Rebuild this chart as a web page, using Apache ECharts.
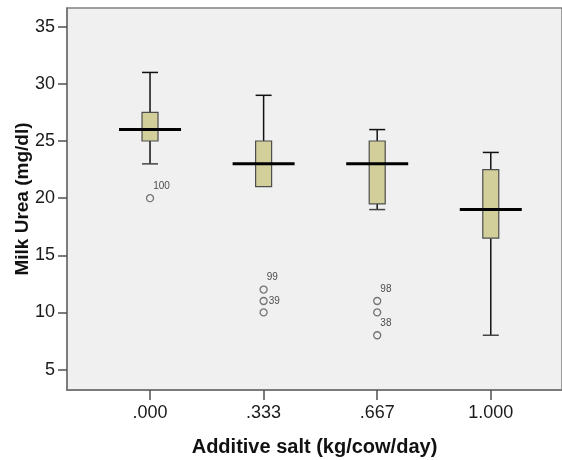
<!DOCTYPE html>
<html>
<head>
<meta charset="utf-8">
<title>Milk Urea by Additive salt</title>
<script src="https://cdn.jsdelivr.net/npm/echarts@6/dist/echarts.min.js"></script>
<style>
  html, body { margin: 0; padding: 0; background: #ffffff; }
  #chart { width: 562px; height: 460px; }
</style>
</head>
<body>
<div id="chart"></div>
<script>
// Groups of additive salt level (kg/cow/day)
const categories = ['.000', '.333', '.667', '1.000'];

// Five-number summaries per group: [whisker low, Q1, median, Q3, whisker high]
const whiskerLow  = [23, 21, 19, 8];
const q1          = [25, 21, 19.5, 16.5];
const medians     = [26, 23, 23, 19];
const q3          = [27.5, 25, 25, 22.5];
const whiskerHigh = [31, 29, 26, 24];

// Outliers: group index, value, case id ('' when unlabelled)
const outlierGroup = [0, 1, 1, 1, 2, 2, 2];
const outlierValue = [20, 12, 11, 10, 11, 10, 8];
const outlierCase  = ['100', '99', '39', '', '98', '', '38'];

// Y axis tick values
const yTicks = [5, 10, 15, 20, 25, 30, 35];

const boxData = categories.map((c, i) => [i, whiskerLow[i], q1[i], medians[i], q3[i], whiskerHigh[i]]);
const outlierData = outlierValue.map((v, i) => [outlierGroup[i], v, outlierCase[i]]);

// Case labels sit above-right of the point, unless the point is flanked above
const sideLabel = { '39': 'right' };

const BOX_W = 16, MED_W = 62, CAP_W = 16;
const FONT = 'Liberation Sans, Arial, sans-serif';

const chart = echarts.init(document.getElementById('chart'), null, { renderer: 'canvas' });

chart.setOption({
  animation: false,
  backgroundColor: '#ffffff',
  grid: {
    left: 67, top: 8, right: 0, bottom: 70,
    outerBoundsMode: 'none',
    containLabel: false,
    show: true,
    backgroundColor: '#f0f0f0',
    borderColor: '#808080',
    borderWidth: 1.5
  },
  xAxis: {
    type: 'value',
    min: -0.731,
    max: 3.627,
    splitLine: { show: false },
    axisLine: { show: true, onZero: false, lineStyle: { color: '#707070', width: 1.5 } },
    axisTick: { show: true, customValues: [0, 1, 2, 3], length: 10, inside: false,
                lineStyle: { color: '#505050', width: 1.5 } },
    axisLabel: {
      customValues: [0, 1, 2, 3],
      formatter: v => categories[Math.round(v)],
      color: '#1a1a1a', fontSize: 18, fontFamily: FONT,
      margin: 14
    },
    name: 'Additive salt (kg/cow/day)',
    nameLocation: 'middle',
    nameGap: 47,
    nameMoveOverlap: false,
    nameTextStyle: { color: '#111', fontSize: 20, fontWeight: 'bold', fontFamily: FONT }
  },
  yAxis: {
    type: 'value',
    min: 3.21,
    max: 36.64,
    splitLine: { show: false },
    axisLine: { show: true, onZero: false, lineStyle: { color: '#707070', width: 1.5 } },
    axisTick: { show: true, customValues: yTicks, length: 9,
                lineStyle: { color: '#505050', width: 1.5 } },
    axisLabel: {
      customValues: yTicks,
      color: '#1a1a1a', fontSize: 18, fontFamily: FONT,
      margin: 12
    },
    name: 'Milk Urea (mg/dl)',
    nameLocation: 'middle',
    nameGap: 35,
    nameMoveOverlap: false,
    nameTextStyle: { color: '#111', fontSize: 19, fontWeight: 'bold', fontFamily: FONT }
  },
  series: [
    {
      type: 'custom',
      data: boxData,
      encode: { x: 0, y: [1, 2, 3, 4, 5] },
      renderItem: function (params, api) {
        const x = api.value(0);
        const pLow = api.coord([x, api.value(1)]);
        const pQ1 = api.coord([x, api.value(2)]);
        const pMed = api.coord([x, api.value(3)]);
        const pQ3 = api.coord([x, api.value(4)]);
        const pHigh = api.coord([x, api.value(5)]);
        const cx = pMed[0];
        const whisker = { stroke: '#111111', lineWidth: 1.5 };
        const children = [];
        if (pHigh[1] < pQ3[1]) {
          children.push({ type: 'line', shape: { x1: cx, y1: pHigh[1], x2: cx, y2: pQ3[1] }, style: whisker });
          children.push({ type: 'line', shape: { x1: cx - CAP_W / 2, y1: pHigh[1], x2: cx + CAP_W / 2, y2: pHigh[1] }, style: whisker });
        }
        if (pLow[1] > pQ1[1]) {
          children.push({ type: 'line', shape: { x1: cx, y1: pQ1[1], x2: cx, y2: pLow[1] }, style: whisker });
          children.push({ type: 'line', shape: { x1: cx - CAP_W / 2, y1: pLow[1], x2: cx + CAP_W / 2, y2: pLow[1] }, style: { stroke: '#444444', lineWidth: 1.5 } });
        }
        children.push({
          type: 'rect',
          shape: { x: cx - BOX_W / 2, y: pQ3[1], width: BOX_W, height: pQ1[1] - pQ3[1] },
          style: { fill: '#d3cf9b', stroke: '#4d4d4d', lineWidth: 1.2 }
        });
        children.push({
          type: 'line',
          shape: { x1: cx - MED_W / 2, y1: pMed[1], x2: cx + MED_W / 2, y2: pMed[1] },
          style: { stroke: '#000000', lineWidth: 3 }
        });
        return { type: 'group', children: children };
      },
      z: 2
    },
    {
      type: 'scatter',
      data: outlierData.map(d => ({
        value: d,
        label: sideLabel[d[2]] === 'right'
          ? { position: 'right', distance: 1, offset: [0, 0] }
          : { position: 'right', distance: 0, offset: [-1, -12] }
      })),
      symbol: 'circle',
      symbolSize: 7,
      itemStyle: { color: 'rgba(0,0,0,0)', borderColor: '#555555', borderWidth: 1.3 },
      label: {
        show: true,
        formatter: p => p.value[2],
        color: '#222222', fontSize: 10, fontFamily: FONT
      },
      z: 3
    }
  ]
});
</script>
</body>
</html>
